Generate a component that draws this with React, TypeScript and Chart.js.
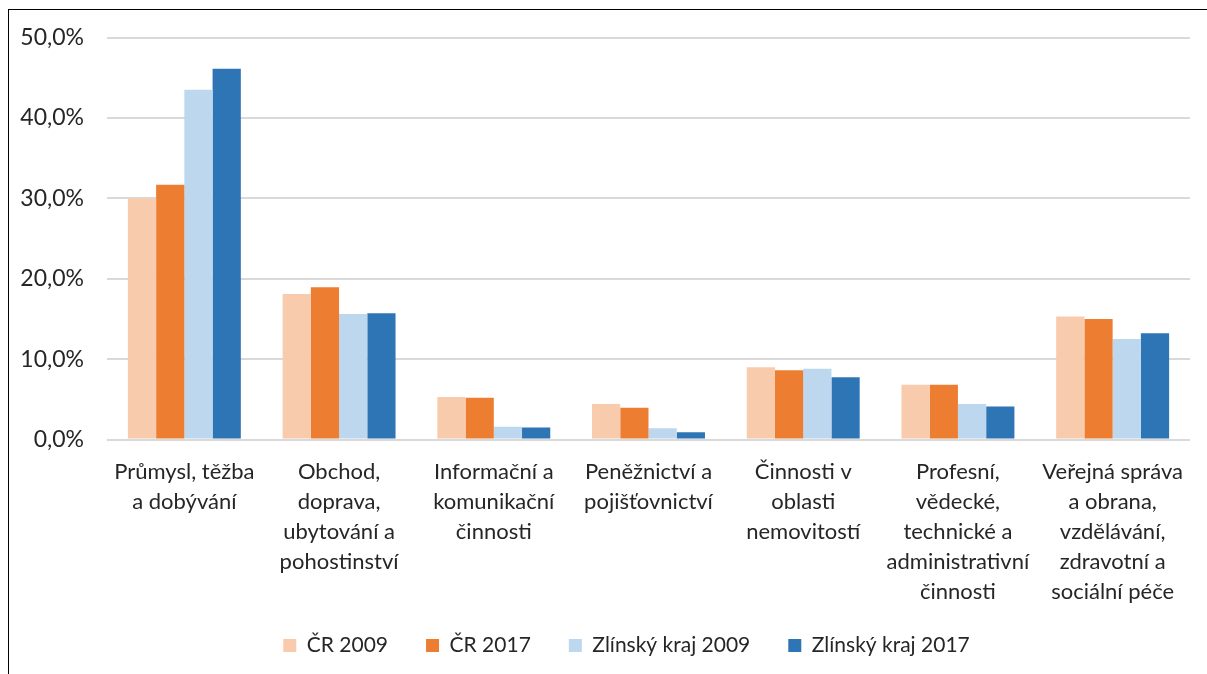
import React, { useEffect, useRef } from "react";
import { Chart, registerables } from "chart.js";

Chart.register(...registerables);

const categories: string[][] = [
  ["Průmysl, těžba", "a dobývání"],
  ["Obchod,", "doprava,", "ubytování a", "pohostinství"],
  ["Informační a", "komunikační", "činnosti"],
  ["Peněžnictví a", "pojišťovnictví"],
  ["Činnosti v", "oblasti", "nemovitostí"],
  ["Profesní,", "vědecké,", "technické a", "administrativní", "činnosti"],
  ["Veřejná správa", "a obrana,", "vzdělávání,", "zdravotní a", "sociální péče"],
];

const seriesNames = ["ČR 2009", "ČR 2017", "Zlínský kraj 2009", "Zlínský kraj 2017"];
const cr2009 = [30.0, 18.1, 5.3, 4.4, 9.0, 6.8, 15.3];
const cr2017 = [31.7, 18.95, 5.2, 3.95, 8.6, 6.8, 15.0];
const zlin2009 = [43.5, 15.6, 1.6, 1.4, 8.8, 4.4, 12.5];
const zlin2017 = [46.1, 15.7, 1.5, 0.9, 7.75, 4.1, 13.2];
const seriesColors = ["#F8CBAD", "#ED7D31", "#BDD7EE", "#2E75B6"];
const yTicks = [0, 10, 20, 30, 40, 50];

const FONT = "Lato, 'Open Sans', sans-serif";
const TEXT = "#262626";

const shiftLegend = {
  id: "shiftLegend",
  afterLayout(chart: any) {
    const lg = chart.legend;
    if (lg) {
      lg.left += 27;
      lg.right += 27;
    }
  },
};

export default function App() {
  const ref = useRef<HTMLCanvasElement | null>(null);

  useEffect(() => {
    const values = [cr2009, cr2017, zlin2009, zlin2017];
    const chart = new Chart(ref.current!, {
      type: "bar",
      data: {
        labels: categories,
        datasets: seriesNames.map((name, i) => ({
          label: name,
          data: values[i],
          backgroundColor: seriesColors[i],
          borderWidth: 0,
          barPercentage: 1,
          categoryPercentage: 0.73,
        })),
      },
      plugins: [shiftLegend],
      options: {
        responsive: false,
        animation: false,
        layout: { padding: { top: 27.5, right: 55, left: 0, bottom: 9 } },
        plugins: {
          title: { display: false },
          tooltip: { enabled: false },
          legend: {
            position: "bottom",
            labels: {
              boxWidth: 13,
              boxHeight: 13,
              padding: 38,
              color: TEXT,
              font: { family: FONT, size: 21 },
            },
          },
        },
        scales: {
          x: {
            grid: { display: false },
            border: { display: false },
            afterFit: (scale: any) => {
              scale.height = 157.5;
              scale._computeLabelArea = () => undefined;
            },
            ticks: {
              color: TEXT,
              font: { family: FONT, size: 22, lineHeight: "30px" },
              padding: 9,
              maxRotation: 0,
              autoSkip: false,
            },
          },
          y: {
            min: 0,
            max: 50,
            afterFit: (scale: any) => {
              scale.width = 98;
              scale.paddingTop = 0;
              scale.paddingBottom = 0;
            },
            afterBuildTicks: (scale: any) => {
              scale.ticks = yTicks.map((v) => ({ value: v }));
            },
            grid: { color: "#D9D9D9", lineWidth: 2, drawTicks: false },
            border: { display: false },
            ticks: {
              color: TEXT,
              padding: 23,
              font: { family: FONT, size: 23 },
              callback: (v: any) => Number(v).toFixed(1).replace(".", ",") + "%",
            },
          },
        },
      },
    });
    return () => {
      chart.destroy();
    };
  }, []);

  return (
    <div
      style={{
        position: "fixed",
        left: 0,
        top: 0,
        width: 1207,
        height: 674,
        overflow: "hidden",
        background: "#fff",
      }}
    >
      <div
        style={{
          position: "absolute",
          left: 8,
          top: 9,
          width: 1199,
          height: 665,
          overflow: "hidden",
          boxSizing: "border-box",
          borderLeft: "1.5px solid #000",
          borderTop: "1.5px solid #000",
          background: "#fff",
        }}
      >
        <canvas ref={ref} width={1236} height={665} style={{ display: "block" }} />
      </div>
    </div>
  );
}
